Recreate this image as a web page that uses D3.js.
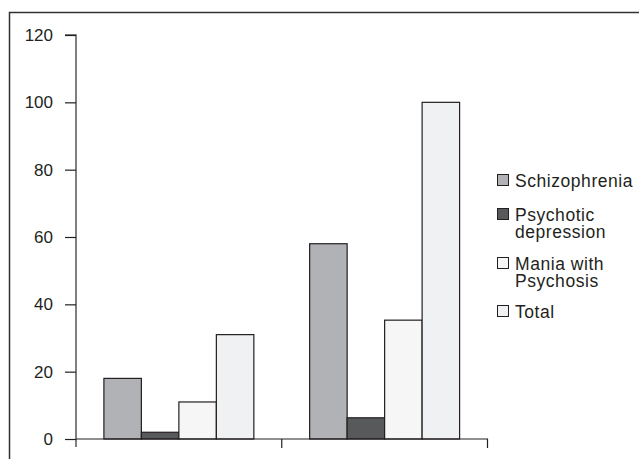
<!DOCTYPE html>
<html><head><meta charset="utf-8">
<script src="https://cdn.jsdelivr.net/npm/d3@7"></script>
<style>body{margin:0;background:#fff}svg{display:block}text{font-family:"Liberation Sans",Arial,sans-serif}</style>
</head><body>
<svg id="c" width="639" height="459"></svg>
<script>
const categories = ["Group 1", "Group 2"];
const seriesNames = ["Schizophrenia", "Psychotic depression", "Mania with Psychosis", "Total"];
const legendLabels = [["Schizophrenia"], ["Psychotic", "depression"], ["Mania with", "Psychosis"], ["Total"]];
const schizophrenia = [18, 58];
const psychoticDepression = [2, 6.3];
const maniaWithPsychosis = [11, 35.3];
const total = [31, 100];
const yTicks = [0, 20, 40, 60, 80, 100, 120];
const colors = ["#b1b2b5", "#58595b", "#f6f6f6", "#f0f1f3"];

const values = [schizophrenia, psychoticDepression, maniaWithPsychosis, total];
const svg = d3.select("#c");
const stroke = "#231f20";

// frame
svg.append("path").attr("d", "M9.5,459 V12.5 H639").attr("fill", "none").attr("stroke", "#333").attr("stroke-width", 1.5);

const x0 = d3.scaleBand().domain(categories).range([76, 487.5]).paddingInner(0).paddingOuter(0);
const y = d3.scaleLinear().domain([0, 120]).range([439, 35]);
const x1 = d3.scaleBand().domain(seriesNames).range([27.9, x0.bandwidth() - 27.9]);

// y axis
const ya = svg.append("g").attr("transform", "translate(76,0)")
  .call(d3.axisLeft(y).tickValues(yTicks).tickSize(11).tickPadding(12));
ya.select(".domain").attr("d", `M-11,${y(120)}H0V447`).attr("stroke", "#555").attr("stroke-width", 1.5);
ya.selectAll(".tick line").attr("stroke", stroke).attr("stroke-width", 1.2);
ya.selectAll(".tick text").attr("font-size", 17).attr("fill", "#231f20").attr("font-family", '"Liberation Sans",Arial,sans-serif');

// bars
categories.forEach((c, ci) => {
  const g = svg.append("g").attr("transform", `translate(${x0(c)},0)`);
  seriesNames.forEach((s, si) => {
    g.append("rect")
      .attr("x", x1(s)).attr("width", x1.bandwidth())
      .attr("y", y(values[si][ci])).attr("height", y(0) - y(values[si][ci]))
      .attr("fill", colors[si]).attr("stroke", stroke).attr("stroke-width", 1.2);
  });
});

// x axis
const xa = svg.append("g").attr("transform", `translate(0,${y(0)})`)
  .call(d3.axisBottom(x0).tickSize(0).tickFormat(""));
xa.select(".domain").attr("d", "M76,0H487.5V9").attr("fill", "none").attr("stroke", stroke).attr("stroke-width", 1.2);
xa.selectAll(".tick").remove();
xa.append("line").attr("x1", x0(categories[1])).attr("x2", x0(categories[1])).attr("y1", 0).attr("y2", 9).attr("stroke", stroke).attr("stroke-width", 1.2);

// legend
const legTop = [174, 208, 257, 305];
legendLabels.forEach((lines, i) => {
  svg.append("rect").attr("x", 497.5).attr("y", legTop[i] + 0.5).attr("width", 11).attr("height", 11)
    .attr("fill", colors[i]).attr("stroke", stroke).attr("stroke-width", 1);
  const t = svg.append("text").attr("x", 515).attr("y", legTop[i] + 12.5).attr("font-size", 17.5)
    .attr("letter-spacing", 0.55).attr("fill", "#231f20");
  lines.forEach((l, li) => t.append("tspan").attr("x", 515).attr("dy", li === 0 ? 0 : 17).text(l));
});
</script>
</body></html>
